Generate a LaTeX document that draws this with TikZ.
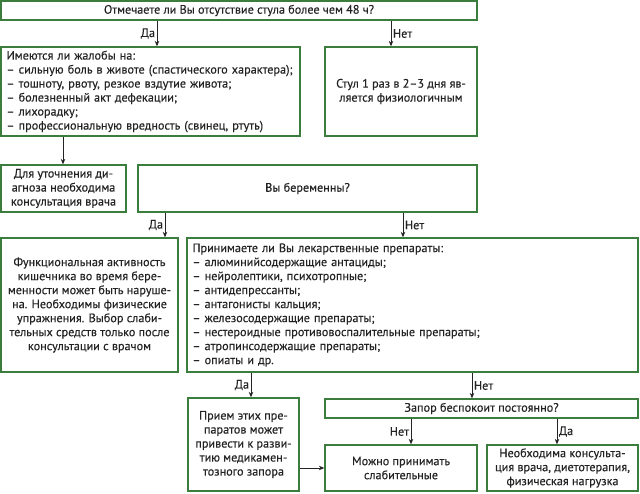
\documentclass[tikz,border=0pt]{standalone}
\usepackage{fontspec}
\setmainfont{PT Sans}[FakeBold=0.3]
\usetikzlibrary{arrows.meta}
\definecolor{boxgreen}{RGB}{58,125,60}
\definecolor{txt}{RGB}{35,35,35}
\begin{document}
\begin{tikzpicture}[x=1pt,y=-1pt,
  every node/.style={font=\fontsize{12.2}{14}\selectfont, text=txt},
  box/.style={draw=boxgreen, line width=1.3pt, inner sep=0pt, align=center},
  lbox/.style={draw=boxgreen, line width=1.3pt, inner xsep=5.5pt, inner ysep=0pt, align=left},
  arr/.style={draw=txt, line width=0.9pt, -{Stealth[length=5.5pt,width=4.5pt]}},
  lbl/.style={inner sep=1.5pt}]
\useasboundingbox (0,0) rectangle (640,494);

\node[box, minimum width=476pt, minimum height=19pt] (q1) at (239,10.5)
  {Отмечаете ли Вы отсутствие стула более чем 48 ч?};
\node[lbox, text width=288pt, minimum height=89pt] (compl) at (150.5,91.5)
  {Имеются ли жалобы на:\\
   – сильную боль в животе (спастического характера);\\
   – тошноту, рвоту, резкое вздутие живота;\\
   – болезненный акт дефекации;\\
   – лихорадку;\\
   – профессиональную вредность (свинец, ртуть)};
\node[box, minimum width=152pt, minimum height=89pt] (norm) at (401,91.5)
  {Стул 1 раз в 2–3 дня яв-\\ляется физиологичным};
\node[box, minimum width=125pt, minimum height=47pt] (doc) at (63.5,188.5)
  {Для уточнения ди-\\агноза необходима\\консультация врача};
\node[box, minimum width=339pt, minimum height=47pt] (preg) at (307.5,188.5)
  {Вы беременны?};
\node[box, minimum width=177pt, minimum height=134pt] (func) at (89.5,305)
  {Функциональная активность\\кишечника во время бере-\\менности может быть наруше-\\на. Необходимы физические\\упражнения. Выбор слаби-\\тельных средств только после\\консультации с врачом};
\node[lbox, text width=440pt, minimum height=134pt] (drugs) at (412.5,305)
  {Принимаете ли Вы лекарственные препараты:\\
   – алюминийсодержащие антациды;\\
   – нейролептики, психотропные;\\
   – антидепрессанты;\\
   – антагонисты кальция;\\
   – железосодержащие препараты;\\
   – нестероидные противовоспалительные препараты;\\
   – атропинсодержащие препараты;\\
   – опиаты и др.};
\node[box, minimum width=111pt, minimum height=93pt] (effect) at (243.5,444.5)
  {Прием этих пре-\\паратов может\\привести к разви-\\тию медикамен-\\тозного запора};
\node[box, minimum width=313pt, minimum height=19pt] (const) at (481.5,408.5)
  {Запор беспокоит постоянно?};
\node[box, minimum width=152pt, minimum height=46pt] (lax) at (401,468)
  {Можно принимать\\слабительные};
\node[box, minimum width=151pt, minimum height=46pt] (cons) at (562.5,468)
  {Необходима консульта-\\ция врача, диетотерапия,\\физическая нагрузка};

\draw[arr] (q1.south -| 157,0) -- node[lbl,left] {Да} (compl.north -| 157,0);
\draw[arr] (q1.south -| 391,0) -- node[lbl,right] {Нет} (norm.north -| 391,0);
\draw[arr] (compl.south -| 63,0) -- (doc.north -| 63,0);
\draw[arr] (preg.south -| 165,0) -- node[lbl,left] {Да} (func.north -| 165,0);
\draw[arr] (preg.south -| 403,0) -- node[lbl,right] {Нет} (drugs.north -| 403,0);
\draw[arr] (drugs.south -| 251,0) -- node[lbl,left] {Да} (effect.north -| 251,0);
\draw[arr] (drugs.south -| 472,0) -- node[lbl,right] {Нет} (const.north -| 472,0);
\draw[arr] (const.south -| 411,0) -- node[lbl,left] {Нет} (lax.north -| 411,0);
\draw[arr] (const.south -| 557,0) -- node[lbl,right] {Да} (cons.north -| 557,0);
\draw[arr] (effect.east |- 0,468) -- (lax.west |- 0,468);
\end{tikzpicture}
\end{document}
